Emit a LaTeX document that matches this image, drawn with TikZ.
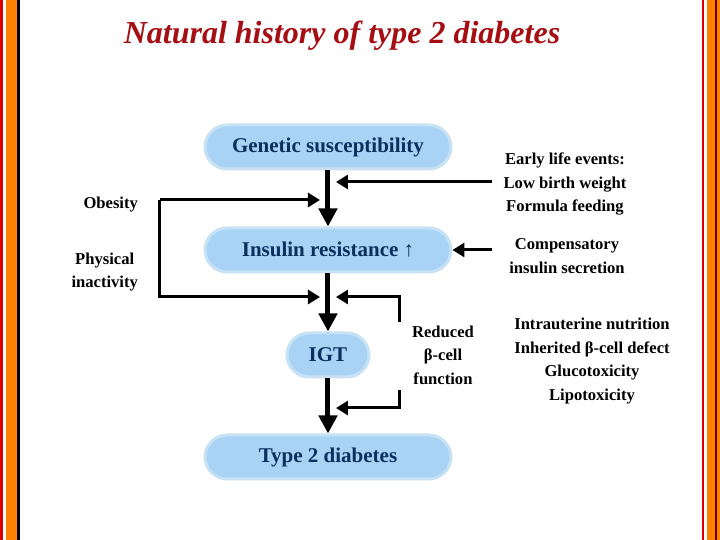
\documentclass[tikz,border=0pt]{standalone}
\usepackage{fontspec}
\setmainfont{Liberation Serif}
\usetikzlibrary{arrows.meta}
\definecolor{boxfill}{HTML}{A9D3F5}
\definecolor{boxedge}{HTML}{C8E2F5}
\definecolor{boxtext}{HTML}{0B2F5E}
\definecolor{titlered}{HTML}{A50F14}
\definecolor{bord}{HTML}{FF8000}
\tikzset{
  pill/.style={draw=boxedge, line width=1.5pt, fill=boxfill, rounded corners=11pt, text=boxtext, font=\bfseries\fontsize{10.5}{12}\selectfont, inner sep=0pt},
  side/.style={font=\bfseries\fontsize{8.3}{11.8}\selectfont, align=center},
  flow/.style={line width=2.5pt, -{Triangle[length=9pt,width=9pt]}},
  feed/.style={line width=1.5pt, -{Triangle[length=6pt,width=7pt]}}
}
\begin{document}
\begin{tikzpicture}[x=0.5pt,y=-0.5pt]
\useasboundingbox (0,0) rectangle (720,540);
% borders
\fill[red!85!black] (0,0) rectangle (3,540);
\fill[bord] (6,0) rectangle (17,540);
\fill[black] (17,0) rectangle (20,540);
\fill[red!85!black] (702,0) rectangle (704,540);
\fill[bord] (707,0) rectangle (720,540);
\fill[black!60!red] (715,0) rectangle (717,540);
% title
\node (title) at (342,36) {\color{titlered}\bfseries\itshape\fontsize{16}{19}\selectfont Natural history of type 2 diabetes};
% boxes
\node[pill, minimum width=123pt, minimum height=22pt] (gen) at (328,147) {Genetic susceptibility};
\node[pill, minimum width=123pt, minimum height=22pt] (ins) at (328,250) {Insulin resistance ↑};
\node[pill, minimum width=41pt, minimum height=22pt] (igt) at (328,355) {IGT};
\node[pill, minimum width=123pt, minimum height=22pt] (t2d) at (328,457) {Type 2 diabetes};
% main flow
\draw[flow] (gen.south) -- (ins.north);
\draw[flow] (ins.south) -- (igt.north);
\draw[flow] (igt.south) -- (t2d.north);
% labels
\node[side] (early) at (565,184) {Early life events:\\Low birth weight\\Formula feeding};
\node[side, anchor=east] (obes) at (145,205) {Obesity};
\node[side, anchor=east] (phys) at (145,272) {Physical\\inactivity};
\node[side] (comp) at (567,256) {Compensatory\\insulin secretion};
\node[side] (red) at (443,355) {Reduced\\β-cell\\function};
\node[side] (list) at (592,361) {Intrauterine nutrition\\Inherited β-cell defect\\Glucotoxicity\\Lipotoxicity};
% connector ends
\coordinate (e1) at (492,182);
\coordinate (e2) at (336,182);
\coordinate (o1) at (160,200);
\coordinate (o2) at (320,200);
\coordinate (o3) at (160,297);
\coordinate (o4) at (320,297);
\coordinate (c1) at (492,250);
\coordinate (r1) at (400,322);
\coordinate (r2) at (336,297);
\coordinate (r3) at (400,390);
\coordinate (r4) at (336,408);
\draw[feed] (e1) -- (e2);
\draw[feed] (o1) -- (o2);
\draw[feed] (o1) -- (o3) -- (o4);
\draw[feed] (c1) -- (ins.east);
\draw[feed] (r1) |- (r2);
\draw[feed] (r3) |- (r4);
\end{tikzpicture}
\end{document}
